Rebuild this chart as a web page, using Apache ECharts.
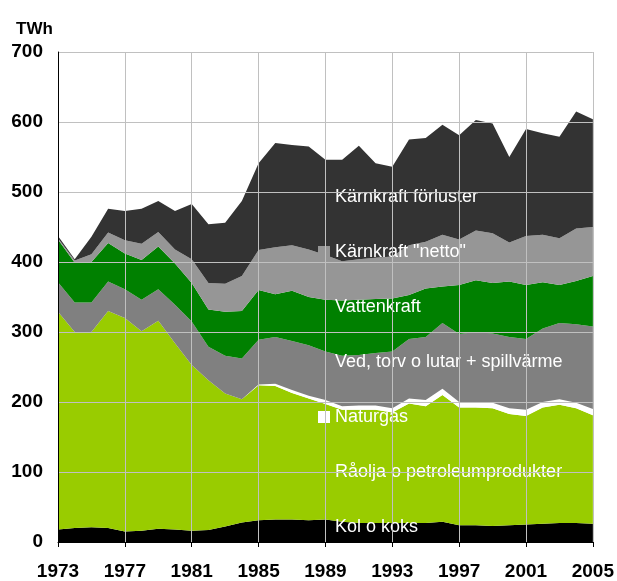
<!DOCTYPE html>
<html>
<head>
<meta charset="utf-8">
<script src="https://cdn.jsdelivr.net/npm/echarts@6/dist/echarts.min.js"></script>
<style>
  html, body { margin: 0; padding: 0; background: #fff; }
  #chart1 { width: 617px; height: 581px; }
</style>
</head>
<body>
<div id="chart1"></div>
<script>
// TWh per år, 1973-2005
let years = ['1973', '1974', '1975', '1976', '1977', '1978', '1979', '1980', '1981', '1982', '1983',
  '1984', '1985', '1986', '1987', '1988', '1989', '1990', '1991', '1992', '1993', '1994',
  '1995', '1996', '1997', '1998', '1999', '2000', '2001', '2002', '2003', '2004', '2005']

let kol = [18, 20, 21, 20, 15, 16, 19, 18, 16, 17, 22, 28, 31, 32, 32, 31, 32, 29, 27, 27, 27, 27, 27, 29, 24, 24, 23, 24, 25, 26, 27, 27, 26]
let raolja = [311, 280, 279, 310, 305, 285, 297, 266, 237, 214, 190, 176, 193, 191, 181, 174, 165, 160, 162, 162, 158, 171, 167, 181, 168, 168, 168, 159, 155, 166, 169, 164, 155]
let naturgas = [0, 0, 0, 0, 0, 0, 0, 0, 0, 0, 0, 0, 1, 3, 4, 4, 6, 5, 6, 6, 6, 7, 9, 9, 8, 8, 8, 8, 9, 8, 8, 8, 9]
let ved = [42, 42, 42, 42, 41, 45, 45, 55, 62, 48, 54, 58, 64, 67, 70, 72, 69, 72, 72, 75, 81, 85, 90, 94, 97, 100, 99, 102, 101, 105, 109, 112, 118]
let vatten = [61, 57, 58, 55, 51, 57, 61, 59, 55, 53, 63, 68, 71, 61, 72, 69, 74, 79, 79, 77, 76, 63, 69, 52, 70, 74, 72, 79, 77, 66, 54, 62, 72]
let karnNetto = [2, 3, 11, 15, 19, 23, 21, 20, 34, 38, 40, 50, 57, 67, 65, 68, 64, 56, 58, 59, 60, 71, 67, 74, 65, 71, 71, 56, 70, 68, 67, 75, 70]
let karnForluster = [3, 2, 25, 34, 42, 50, 44, 55, 79, 84, 87, 107, 124, 149, 143, 147, 136, 145, 162, 135, 128, 151, 148, 157, 149, 158, 157, 122, 153, 145, 145, 167, 154]

let yTicks = [0, 100, 200, 300, 400, 500, 600, 700]

let names = ['Kol o koks', 'Råolja o petroleumprodukter', 'Naturgas', 'Ved, torv o lutar + spillvärme',
  'Vattenkraft', 'Kärnkraft "netto"', 'Kärnkraft förluster']
let values = [kol, raolja, naturgas, ved, vatten, karnNetto, karnForluster]
let colors = ['#000000', '#99CC00', '#FFFFFF', '#808080', '#008000', '#969696', '#333333']

let series = []
for (let i = 0; i < names.length; i++) {
  series.push({
    name: names[i],
    type: 'line',
    stack: 'total',
    symbol: 'none',
    data: values[i],
    lineStyle: { width: 0 },
    itemStyle: { color: colors[i] },
    areaStyle: { color: colors[i], opacity: 1 }
  })
}

let charts = echarts.init(document.getElementById('chart1'))
let option = {
  animation: false,
  title: {
    text: 'TWh',
    left: 11,
    top: 16,
    textStyle: { fontFamily: 'Liberation Sans', fontWeight: 'bold', fontSize: 17, color: '#000' }
  },
  legend: {
    orient: 'vertical',
    left: 318,
    top: 188,
    padding: 0,
    icon: 'rect',
    itemWidth: 12,
    itemHeight: 12,
    itemGap: 37,
    selectedMode: false,
    data: names.slice().reverse(),
    textStyle: { color: '#fff', fontFamily: 'Liberation Sans', fontSize: 18, lineHeight: 18 }
  },
  grid: { left: 58, right: 24, top: 52, bottom: 39 },
  xAxis: {
    type: 'category',
    data: years,
    boundaryGap: false,
    z: 5,
    axisLine: { lineStyle: { color: '#000', width: 1 } },
    axisTick: { interval: 3, length: 5, lineStyle: { color: '#000' } },
    axisLabel: { interval: 3, margin: 20, color: '#000', fontFamily: 'Liberation Sans', fontWeight: 'bold', fontSize: 19 },
    splitLine: { show: true, interval: 3, lineStyle: { color: '#C0C0C0', width: 1 } }
  },
  yAxis: {
    type: 'value',
    min: yTicks[0],
    max: yTicks[yTicks.length - 1],
    interval: 100,
    z: 5,
    axisLine: { show: true, lineStyle: { color: '#000', width: 1 } },
    axisTick: { show: false },
    axisLabel: { margin: 15, color: '#000', fontFamily: 'Liberation Sans', fontWeight: 'bold', fontSize: 19 },
    splitLine: { lineStyle: { color: '#C0C0C0', width: 1 } }
  },
  series: series
}
charts.setOption(option)
</script>
</body>
</html>
